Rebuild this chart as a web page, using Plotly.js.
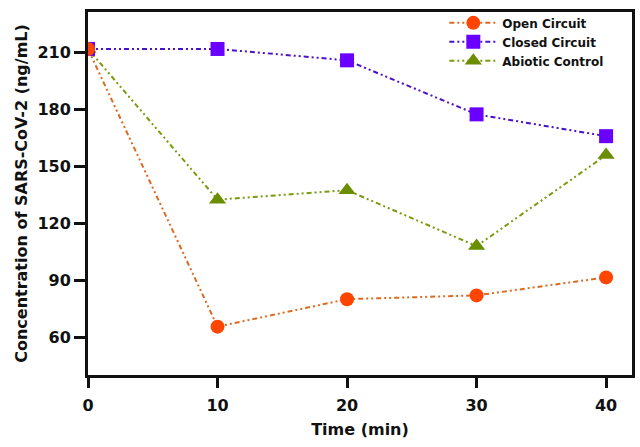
<!DOCTYPE html>
<html>
<head>
<meta charset="utf-8">
<script src="https://cdn.plot.ly/plotly-3.0.1.min.js"></script>
<style>
  html, body { margin: 0; padding: 0; background: #fff; }
  #chart { width: 640px; height: 447px; }
</style>
</head>
<body>
<div id="chart"></div>
<script>
// time points (min)
const times = [0, 10, 20, 30, 40];

// SARS-CoV-2 concentration (ng/mL)
const openCircuit = [212, 65.5, 80, 82, 91.5];
const closedCircuit = [212, 212, 206, 177.5, 166];
const abioticControl = [212, 132.5, 137.5, 108, 156];

const xTicks = [0, 10, 20, 30, 40];
const yTicks = [60, 90, 120, 150, 180, 210];

const dashDotDot = '5px,3px,2px,3px,2px,3px';

const traces = [
  {
    name: 'Open Circuit',
    x: times, y: openCircuit,
    mode: 'lines+markers',
    line: {color: '#dc6a22', width: 2, dash: dashDotDot},
    marker: {symbol: 'circle', size: 14, color: '#ff4500'}
  },
  {
    name: 'Closed Circuit',
    x: times, y: closedCircuit,
    mode: 'lines+markers',
    line: {color: '#4a12c8', width: 2, dash: dashDotDot},
    marker: {symbol: 'square', size: 14, color: '#6a00ff'}
  },
  {
    name: 'Abiotic Control',
    x: times, y: abioticControl,
    mode: 'lines+markers',
    line: {color: '#7a9a10', width: 2, dash: dashDotDot},
    marker: {symbol: 'triangle-up', size: 15, color: '#6b8e00'}
  }
];

// draw open circuit last so its marker sits on top at t=0
const plotTraces = [traces[2], traces[1], traces[0]];

const font = {family: '"DejaVu Sans", sans-serif', color: '#111', weight: 'bold'};

const layout = {
  width: 640, height: 447,
  margin: {l: 88, r: 8, t: 12, b: 72},
  paper_bgcolor: '#fff', plot_bgcolor: '#fff',
  showlegend: true,
  legend: {
    x: 0.655, y: 1.01, xanchor: 'left', yanchor: 'top',
    traceorder: 'reversed',
    bgcolor: 'rgba(0,0,0,0)',
    font: Object.assign({}, font, {size: 12}),
    itemwidth: 48
  },
  xaxis: {
    range: [0, 42],
    tickvals: xTicks,
    ticks: 'outside', ticklen: 10, tickwidth: 3, tickcolor: '#111',
    ticklabelstandoff: 4,
    showline: true, linewidth: 3, linecolor: '#111', mirror: true,
    showgrid: false, zeroline: false,
    tickfont: Object.assign({}, font, {size: 16}),
    title: {text: 'Time (min)', font: Object.assign({}, font, {size: 16}), standoff: 10}
  },
  yaxis: {
    range: [40, 231.5],
    tickvals: yTicks,
    ticks: 'outside', ticklen: 11, tickwidth: 3, tickcolor: '#111',
    showline: true, linewidth: 3, linecolor: '#111', mirror: true,
    showgrid: false, zeroline: false,
    tickfont: Object.assign({}, font, {size: 16}),
    title: {text: 'Concentration of SARS-CoV-2 (ng/mL)', font: Object.assign({}, font, {size: 16}), standoff: 6}
  }
};

Plotly.newPlot('chart', plotTraces, layout, {displayModeBar: false, staticPlot: true});
</script>
</body>
</html>
